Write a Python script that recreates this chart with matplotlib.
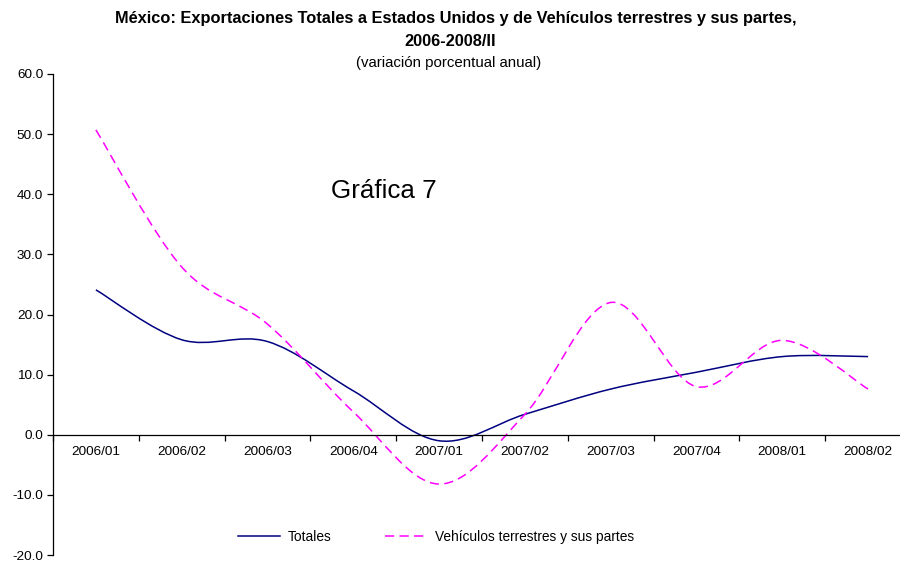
import matplotlib
matplotlib.use("Agg")
import matplotlib.pyplot as plt
import numpy as np
from matplotlib.path import Path
from matplotlib.patches import PathPatch
from matplotlib.lines import Line2D
from matplotlib.ticker import FixedLocator, FixedFormatter

plt.rcParams['font.family'] = ['Liberation Sans', 'DejaVu Sans']

categories = ["2006/01", "2006/02", "2006/03", "2006/04", "2007/01",
              "2007/02", "2007/03", "2007/04", "2008/01", "2008/02"]
totales = [24.1, 15.8, 15.5, 7.3, -1.0, 3.4, 7.6, 10.4, 13.0, 13.0]
vehiculos = [50.7, 27.9, 18.4, 3.8, -8.2, 3.4, 22.0, 8.0, 15.7, 7.6]
yticks = [-20, -10, 0, 10, 20, 30, 40, 50, 60]

fig = plt.figure(figsize=(9, 5.63), dpi=100)
ax = fig.add_axes([53/900, 1-555/563, (911-53)/900, (555-74)/563])


def smooth_path(xs, ys):
    pts = np.column_stack([xs, ys]).astype(float)
    n = len(pts)
    verts = [pts[0]]
    codes = [Path.MOVETO]
    for i in range(n - 1):
        p0 = pts[i - 1] if i > 0 else pts[i]
        p1 = pts[i]
        p2 = pts[i + 1]
        p3 = pts[i + 2] if i + 2 < n else pts[i + 1]
        c1 = p1 + (p2 - p0) / 6.0
        c2 = p2 - (p3 - p1) / 6.0
        verts += [c1, c2, p2]
        codes += [Path.CURVE4] * 3
    return Path(verts, codes)


x = np.arange(len(categories))
p1 = PathPatch(smooth_path(x, totales), facecolor='none', edgecolor='#000080', lw=1.1)
ax.add_patch(p1)
p2 = PathPatch(smooth_path(x, vehiculos), facecolor='none', edgecolor='#FF00FF', lw=1.1,
               linestyle=(0, (6, 3.5)))
ax.add_patch(p2)

ax.set_xlim(-0.5, len(categories) - 0.5)
ax.set_ylim(-20, 60)

for s in ['top', 'right']:
    ax.spines[s].set_visible(False)
ax.spines['bottom'].set_position(('data', 0))
ax.spines['bottom'].set_linewidth(0.9)
ax.spines['left'].set_linewidth(0.9)

ax.xaxis.set_major_locator(FixedLocator(np.arange(-0.5, len(categories), 1.0)))
ax.xaxis.set_major_formatter(FixedFormatter([""] * (len(categories) + 1)))
ax.xaxis.set_minor_locator(FixedLocator(x))
ax.xaxis.set_minor_formatter(FixedFormatter(categories))
ax.tick_params(axis='x', which='major', direction='out', length=4, width=0.9)
ax.tick_params(axis='x', which='minor', length=0, pad=8, labelsize=9.7)

ax.set_yticks(yticks)
ax.set_yticklabels([f"{v:.1f}" for v in yticks])
ax.tick_params(axis='y', direction='out', length=4, width=0.9, labelsize=9.7, pad=3)

fig.text(456/900, 1-18/563, "México: Exportaciones Totales a Estados Unidos y de Vehículos terrestres y sus partes,",
         ha='center', va='center', fontsize=11.8, fontweight='bold')
fig.text(0.5, 1-41/563, "2006-2008/II", ha='center', va='center', fontsize=11.8, fontweight='bold')
fig.text(449/900, 1-63/563, "(variación porcentual anual)", ha='center', va='center', fontsize=10.8)

ax.text(3.35, 40.5, "Gráfica 7", ha='center', va='center', fontsize=18.7)

h1 = Line2D([], [], color='#000080', lw=1.1)
h2 = Line2D([], [], color='#FF00FF', lw=1.1, linestyle=(0, (6, 3.5)))
fig.legend([h1, h2], ["Totales", "Vehículos terrestres y sus partes"], loc='center',
           bbox_to_anchor=(436/900, 1-537/563), ncol=2, frameon=False, fontsize=9.9,
           handlelength=3.0, columnspacing=3.9, handletextpad=0.6)

fig.savefig("out.png", dpi=100)
